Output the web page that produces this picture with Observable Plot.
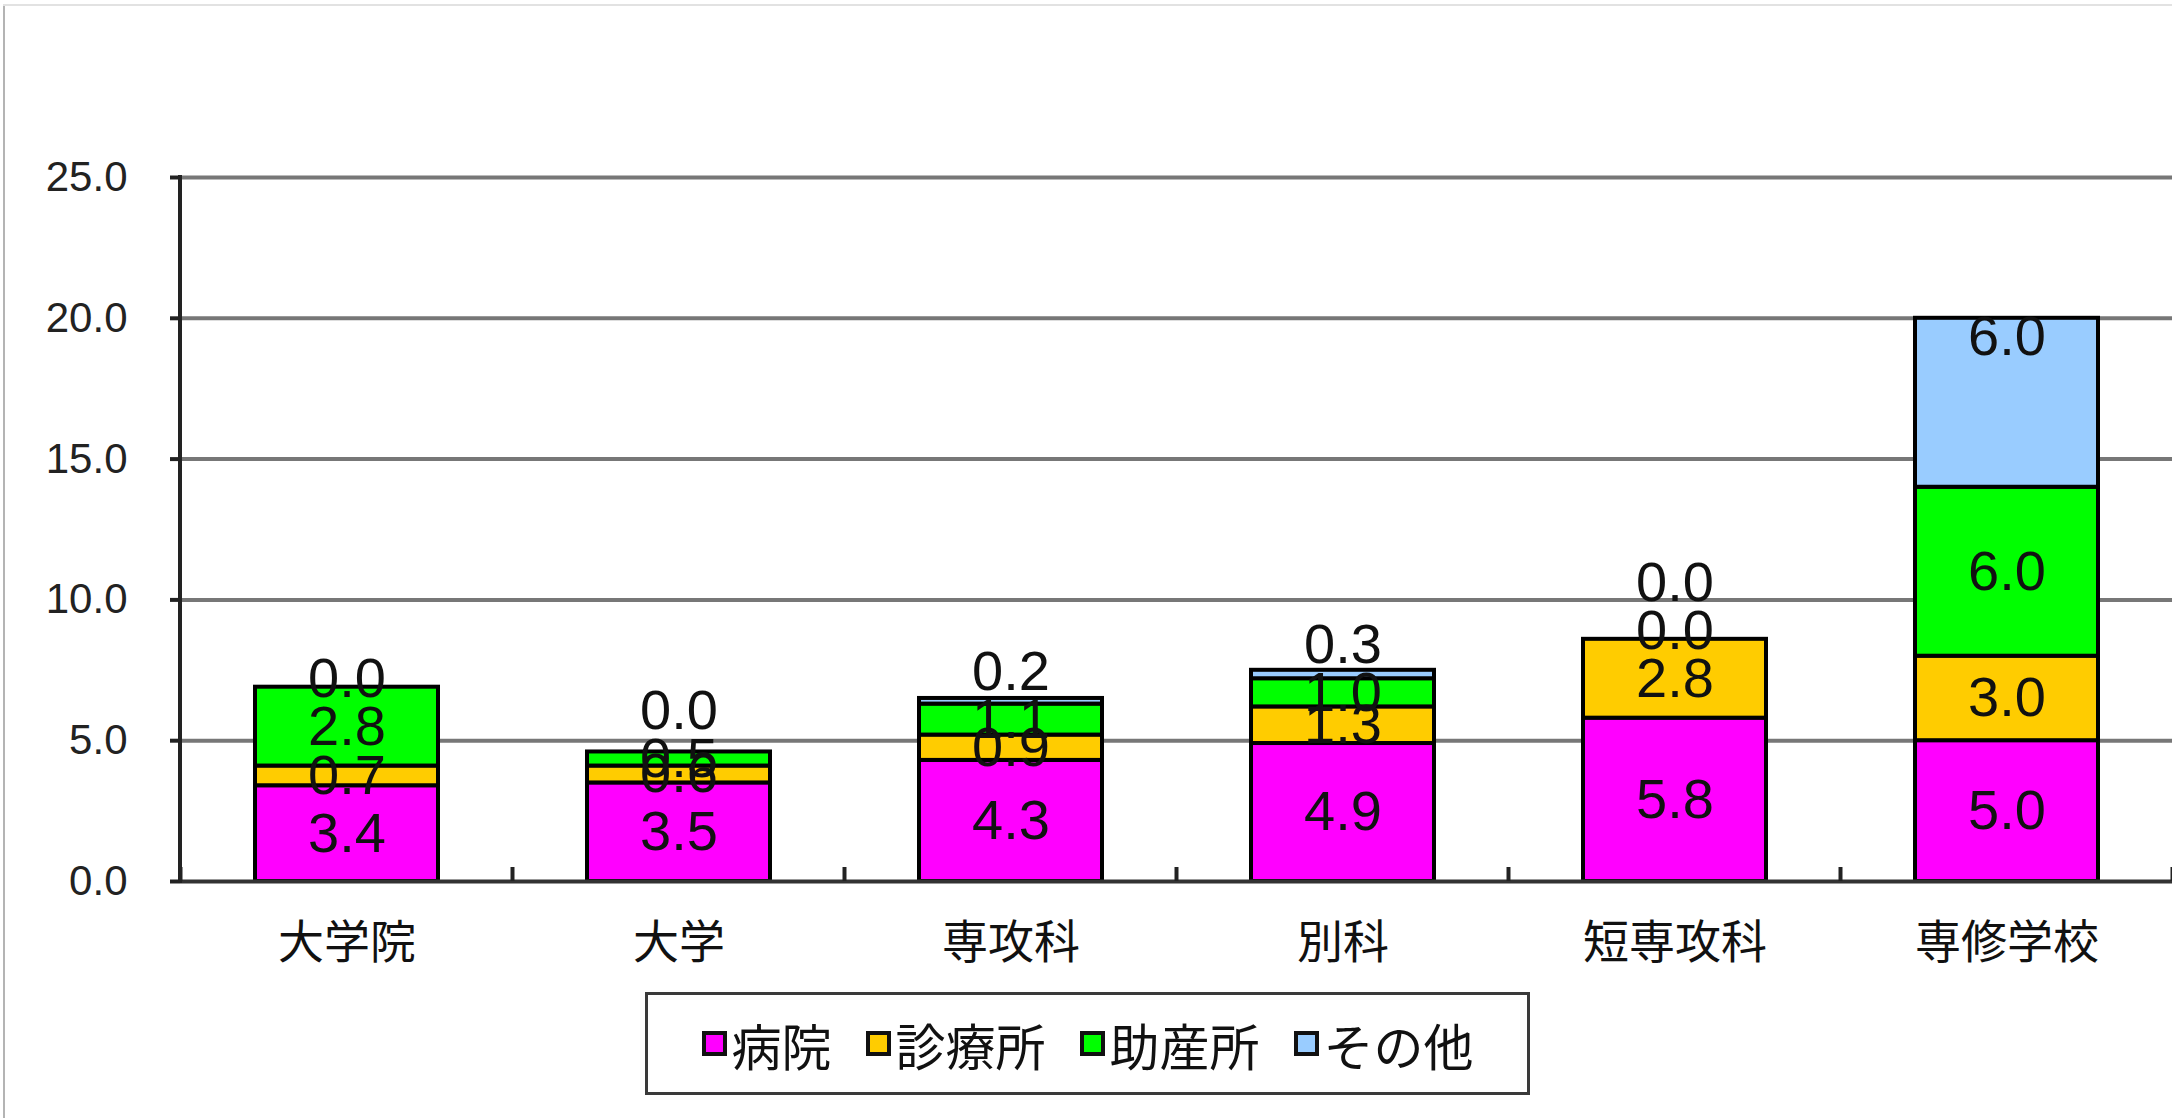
<!DOCTYPE html>
<html>
<head>
<meta charset="utf-8">
<script src="https://cdn.jsdelivr.net/npm/d3@7"></script>
<script src="https://cdn.jsdelivr.net/npm/@observablehq/plot@0.6"></script>
<style>
  body { margin: 0; background: #fff; }
  #wrap { position: relative; width: 2172px; height: 1118px; overflow: hidden; background: #fff;
          font-family: "Liberation Sans", "Noto Sans CJK JP", sans-serif; }
  #chart { position: absolute; left: 0; top: 0; }
  #legend { position: absolute; left: 645px; top: 992px; width: 879px; height: 97px;
            border: 3px solid #3a3a3a; display: flex; align-items: center; justify-content: center;
            gap: 34px; font-family: "Noto Sans CJK JP", sans-serif; font-size: 50px; color: #111; }
  .item { display: flex; align-items: center; }
  .sw { display: inline-block; width: 17px; height: 17px; border: 4px solid #111; margin-right: 5px; }
  .edgeL { position: absolute; left: 3px; top: 4px; width: 2px; height: 1114px; background: #b4b4b4; }
  .edgeT { position: absolute; left: 3px; top: 4px; height: 2px; width: 2169px; background: #e2e2e2; }
</style>
</head>
<body>
<div id="wrap">
  <div id="chart"></div>
  <div id="legend"></div>
  <div class="edgeL"></div>
  <div class="edgeT"></div>
</div>
<script>
// ---- data ----
const categories = ["大学院", "大学", "専攻科", "別科", "短専攻科", "専修学校"];
const seriesNames = ["病院", "診療所", "助産所", "その他"];
const hospital  = [3.4, 3.5, 4.3, 4.9, 5.8, 5.0];
const clinic    = [0.7, 0.6, 0.9, 1.3, 2.8, 3.0];
const midwifery = [2.8, 0.5, 1.1, 1.0, 0.0, 6.0];
const other     = [0.0, 0.0, 0.2, 0.3, 0.0, 6.0];
const seriesColors = ["#FF00FF", "#FFCC00", "#00FF00", "#99CCFF"];
const yTicks = [0, 5, 10, 15, 20, 25];

const seriesValues = [hospital, clinic, midwifery, other];

// long table for the stacked bars
const table = [];
categories.forEach((c, i) => {
  seriesValues.forEach((arr, s) => table.push({cat: c, series: seriesNames[s], value: arr[i]}));
});

// data labels: centred in each segment; その他 at inside end; zero / その他 labels nudged up to avoid overlap
const labels = [];
categories.forEach((c, i) => {
  let cum = 0, prev = -Infinity;
  seriesValues.forEach((arr, s) => {
    const v = arr[i];
    const y1 = cum, y2 = cum + v;
    cum = y2;
    let ly = s === 3 ? y2 - 0.65 : (y1 + y2) / 2;
    if ((s === 3 || v === 0) && ly < prev + 1.7) ly = prev + 1.7;
    prev = ly;
    labels.push({cat: c, ly, text: v.toFixed(1)});
  });
});

const plot = Plot.plot({
  width: 2172,
  height: 975,
  marginLeft: 180,
  marginRight: 0,
  marginTop: 177,
  marginBottom: 94,
  style: {fontFamily: '"Liberation Sans", "Noto Sans CJK JP", sans-serif', background: "transparent", color: "#222"},
  x: {domain: categories, paddingInner: 0.45, paddingOuter: 0.225, label: null},
  y: {domain: [0, 25], label: null},
  color: {domain: seriesNames, range: seriesColors},
  marks: [
    Plot.ruleY(yTicks.filter(d => d > 0), {stroke: "#777", strokeWidth: 4}),
    Plot.barY(table, {x: "cat", y: "value", fill: "series", stroke: "#000", strokeWidth: 4}),
    Plot.ruleY([0], {stroke: "#333", strokeWidth: 4}),
    Plot.axisY({ticks: yTicks, tickFormat: d3.format(".1f"), tickSize: 10, tickPadding: 43,
                fontSize: 42, strokeWidth: 4, color: "#222"}),
    Plot.axisX({tickSize: 0, tickPadding: 44, fontSize: 46, color: "#111"}),
    Plot.text(labels, {x: "cat", y: "ly", text: "text", fontSize: 56, fill: "#111"})
  ]
});

// left axis line and category separator ticks, placed through the plot's scales
const xs = plot.scale("x"), ys = plot.scale("y");
const svg = d3.select(plot);
const y0 = ys.apply(0), yTop = ys.apply(25);
const gap = (xs.step - xs.bandwidth) / 2;
const bounds = categories.map(c => xs.apply(c) - gap);
bounds.push(xs.apply(categories[categories.length - 1]) + xs.bandwidth + gap);
const g = svg.append("g").attr("stroke", "#222").attr("stroke-width", 4);
g.append("line").attr("x1", xs.range[0]).attr("x2", xs.range[0]).attr("y1", y0 + 2).attr("y2", yTop - 2);
bounds.forEach(b => g.append("line").attr("x1", b).attr("x2", b).attr("y1", y0).attr("y2", y0 - 14));

document.getElementById("chart").appendChild(plot);

// legend
const legend = document.getElementById("legend");
seriesNames.forEach((name, i) => {
  const item = document.createElement("div");
  item.className = "item";
  const sw = document.createElement("span");
  sw.className = "sw";
  sw.style.background = seriesColors[i];
  const t = document.createElement("span");
  t.textContent = name;
  item.appendChild(sw);
  item.appendChild(t);
  legend.appendChild(item);
});
</script>
</body>
</html>
